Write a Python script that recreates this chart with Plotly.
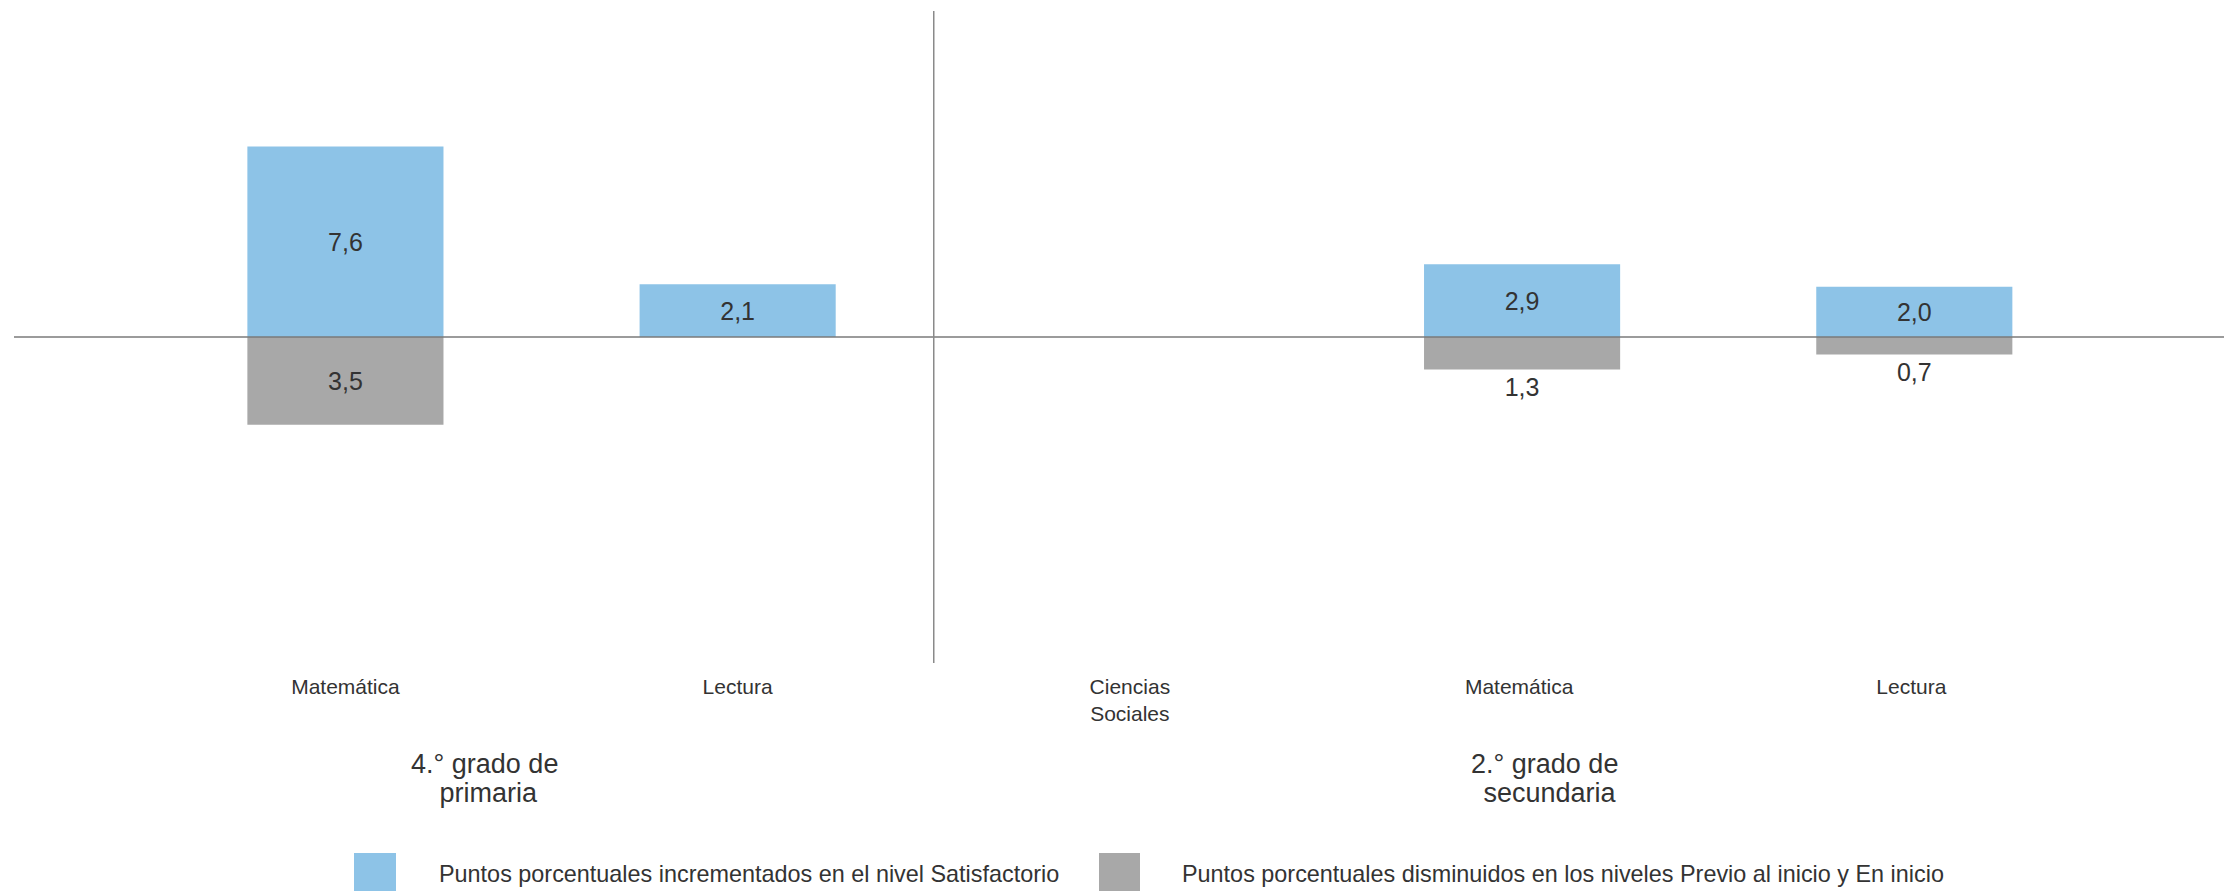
import plotly.graph_objects as go

categories = ["Matemática", "Lectura", "Ciencias<br>Sociales", "Matemática ", "Lectura "]
satisfactorio = [7.6, 2.1, None, 2.9, 2.0]
disminuidos = [3.5, None, None, 1.3, 0.7]
grupos = [("4.° grado de", " primaria"), ("2.° grado de", " secundaria")]
legend_names = [
    "Puntos porcentuales incrementados en el nivel Satisfactorio",
    "Puntos porcentuales disminuidos en los niveles Previo al inicio y En inicio",
]

BLUE = "#8DC3E7"
GREY = "#A8A8A8"
TXT = "#333333"
FONT = "Liberation Sans, Arial, sans-serif"

def fmt(v):
    return "" if v is None else f"{v:.1f}".replace(".", ",")

neg = [None if v is None else -v for v in disminuidos]
grey_pos = ["inside" if (v is not None and v > 2) else "outside" for v in disminuidos]

fig = go.Figure()
fig.add_trace(go.Bar(
    x=categories, y=satisfactorio, name=legend_names[0],
    marker=dict(color=BLUE, line=dict(width=0)),
    text=[fmt(v) for v in satisfactorio], textposition="inside",
    insidetextanchor="middle",
    textfont=dict(family=FONT, size=25, color=TXT),
    width=0.5, showlegend=False, cliponaxis=False,
))
fig.add_trace(go.Bar(
    x=categories, y=neg, name=legend_names[1],
    marker=dict(color=GREY, line=dict(width=0)),
    text=[fmt(v) for v in disminuidos], textposition=grey_pos,
    insidetextanchor="middle",
    textfont=dict(family=FONT, size=25, color=TXT),
    width=0.5, showlegend=False, cliponaxis=False,
))

# page coordinates of plot area (page body has 8px offset)
PX0, PX1, PY0, PY1 = 14, 2232, 11, 663

def px(X):
    return (X - PX0) / (PX1 - PX0)

def py(Y):
    return (PY1 - Y) / (PY1 - PY0)

W, H = 2224, 883
shapes = [
    dict(type="line", xref="paper", yref="y", x0=0, x1=1, y0=0, y1=0,
         line=dict(color="#7a7a7a", width=1.5), layer="above"),
    dict(type="line", xref="x", yref="paper", x0=1.5, x1=1.5, y0=0, y1=1,
         line=dict(color="#8a8a8a", width=1.5)),
    dict(type="rect", xref="paper", yref="paper", x0=px(354), x1=px(396),
         y0=py(853), y1=py(900), fillcolor=BLUE, line=dict(width=0)),
    dict(type="rect", xref="paper", yref="paper", x0=px(1099), x1=px(1140),
         y0=py(853), y1=py(900), fillcolor=GREY, line=dict(width=0)),
]

annotations = []
for (l1, l2), (xa, xb) in zip(grupos, [(484, 485), (1544, 1546)]):
    annotations.append(dict(text=l1, x=px(xa), xref="paper", xanchor="center",
                            y=py(764), yref="paper", yanchor="middle", showarrow=False,
                            font=dict(family=FONT, size=27, color=TXT)))
    annotations.append(dict(text=l2, x=px(xb), xref="paper", xanchor="center",
                            y=py(793), yref="paper", yanchor="middle", showarrow=False,
                            font=dict(family=FONT, size=27, color=TXT)))
for name, X in zip(legend_names, [437, 1180]):
    annotations.append(dict(text=name, x=px(X), xref="paper", xanchor="left",
                            y=py(874), yref="paper", yanchor="middle", showarrow=False,
                            font=dict(family=FONT, size=23.4, color=TXT)))

fig.update_layout(
    width=W, height=H,
    barmode="overlay",
    paper_bgcolor="white", plot_bgcolor="white",
    margin=dict(l=6, r=0, t=3, b=228, autoexpand=False),
    font=dict(family=FONT, color=TXT),
    xaxis=dict(
        range=[-0.845, 4.81], showgrid=False, zeroline=False, showline=False,
        ticks="", tickfont=dict(family=FONT, size=21, color=TXT),
        ticklabelstandoff=9,
    ),
    yaxis=dict(
        range=[-13, 13], showgrid=False, zeroline=False, showline=False,
        showticklabels=False, ticks="",
    ),
    shapes=shapes,
    annotations=annotations,
)

fig.write_html("out.html")
